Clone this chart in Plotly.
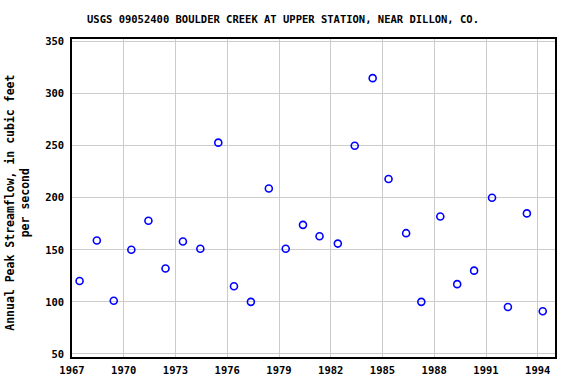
import plotly.graph_objects as go

# Decimal year of each annual peak
peak_year = [1967.44, 1968.44, 1969.42, 1970.44, 1971.43, 1972.42, 1973.43, 1974.44,
             1975.48, 1976.39, 1977.37, 1978.41, 1979.39, 1980.39, 1981.35, 1982.41,
             1983.39, 1984.43, 1985.35, 1986.37, 1987.25, 1988.35, 1989.33, 1990.31,
             1991.35, 1992.27, 1993.37, 1994.29]
peak_flow = [120, 159, 101, 150, 178, 132, 158, 151,
             253, 115, 100, 209, 151, 174, 163, 156,
             250, 315, 218, 166, 100, 182, 117, 130,
             200, 95, 185, 91]
x_ticks = [1967, 1970, 1973, 1976, 1979, 1982, 1985, 1988, 1991, 1994]
y_ticks = [50, 100, 150, 200, 250, 300, 350]

FONT = "DejaVu Sans Mono"
W, H = 576, 384
L, R, T, B = 72, 21, 39, 27

fig = go.Figure()
fig.add_trace(go.Scatter(
    x=peak_year, y=peak_flow, mode="markers",
    marker=dict(symbol="circle-open", size=7, color="#0000ff", line=dict(width=1.6, color="#0000ff")),
    hoverinfo="x+y", showlegend=False,
))

fig.update_layout(
    width=W, height=H,
    margin=dict(l=L, r=R, t=T, b=B, pad=0, autoexpand=False),
    paper_bgcolor="white", plot_bgcolor="white",
    font=dict(family=FONT, size=10, color="black"),
    title=dict(text="<b>USGS 09052400 BOULDER CREEK AT UPPER STATION, NEAR DILLON, CO.</b>",
               x=283 / W, xref="container", xanchor="center",
               y=1 - 19.5 / H, yref="container", yanchor="middle",
               font=dict(family=FONT, size=10.5, color="black")),
    xaxis=dict(range=[1967.0, 1995.0], tickvals=x_ticks, ticktext=[f"<b>{v}</b>" for v in x_ticks],
               showgrid=True, gridcolor="#cccccc", gridwidth=1,
               showline=True, linecolor="black", linewidth=1.5, mirror=True,
               ticks="outside", ticklen=3, tickcolor="rgba(0,0,0,0)", automargin=False,
               zeroline=False, tickfont=dict(family=FONT, size=10.5)),
    yaxis=dict(range=[47.0, 352.6], tickvals=y_ticks, ticktext=[f"<b>{v}</b>" for v in y_ticks],
               showgrid=True, gridcolor="#cccccc", gridwidth=1,
               showline=True, linecolor="black", linewidth=1.5, mirror=True,
               ticks="outside", ticklen=4, tickcolor="rgba(0,0,0,0)",
               zeroline=False, automargin=False, tickfont=dict(family=FONT, size=10.5)),
    annotations=[dict(
        text="<b>Annual Peak Streamflow, in cubic feet<br>per second</b>",
        textangle=-90, xref="paper", yref="paper",
        x=(18 - L) / (W - L - R), y=0.485, xanchor="center", yanchor="middle",
        showarrow=False, font=dict(family=FONT, size=11.5, color="black"),
    )],
)

fig.write_html("out.html")
